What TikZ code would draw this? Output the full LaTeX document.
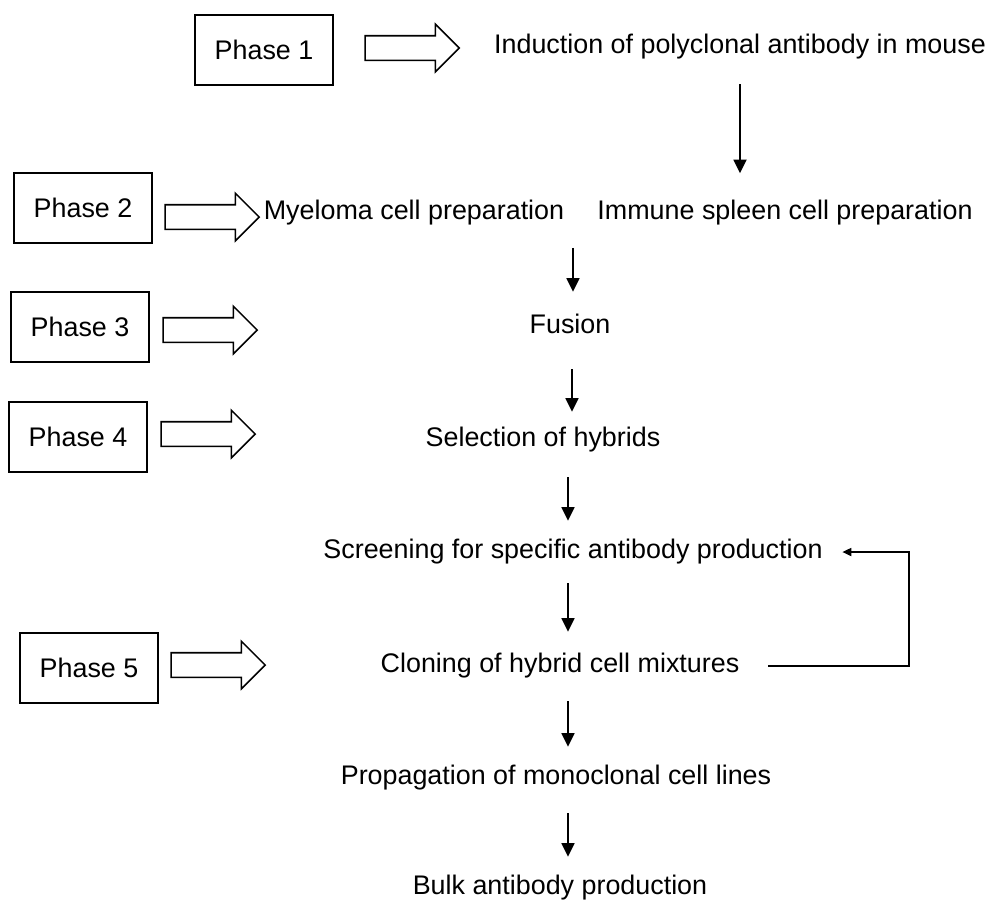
\documentclass[tikz,border=0pt]{standalone}
\usepackage{fontspec}
\setmainfont{Liberation Sans}
\usetikzlibrary{arrows.meta,shapes.arrows}
\newcommand{\stagefont}{\fontsize{15.3}{18}\selectfont}

\begin{document}
\begin{tikzpicture}[x=0.02cm, y=-0.02cm, line width=0.9pt,
    phasebox/.style={draw, minimum width=2.76cm, minimum height=1.4cm, font=\stagefont},
    fatarrow/.style={draw, single arrow, single arrow head extend=0.23cm, inner sep=0.23cm, minimum height=1.88cm},
    stage/.style={inner sep=0pt, text height=0.36cm, text depth=0.1cm, font=\stagefont},
    flow/.style={-{Triangle[length=0.27cm, width=0.26cm]}, line width=1pt},
    loopback/.style={-{Triangle[length=0.18cm, width=0.16cm]}, line width=1pt}]
    \useasboundingbox (0,0) rectangle (1000,904);

    % phases on the left
    \node[phasebox] (p1) at (264,50) {Phase 1};
    \node[phasebox] (p2) at (83,208) {Phase 2};
    \node[phasebox] (p3) at (80,327) {Phase 3};
    \node[phasebox] (p4) at (78,437) {Phase 4};
    \node[phasebox] (p5) at (89,668) {Phase 5};

    \node[fatarrow] (a1) at (406,48) {};
    \node[fatarrow] (a2) at (206,217) {};
    \node[fatarrow] (a3) at (204,330) {};
    \node[fatarrow] (a4) at (202,434) {};
    \node[fatarrow] (a5) at (212,665) {};

    % the procedure
    \node[stage] (induction) at (740,47) {Induction of polyclonal antibody in mouse};
    \node[stage] (myeloma) at (414,213) {Myeloma cell preparation};
    \node[stage] (spleen) at (785,213) {Immune spleen cell preparation};
    \node[stage] (fusion) at (570,327) {Fusion};
    \node[stage] (selection) at (543,440) {Selection of hybrids};
    \node[stage] (screening) at (573,552) {Screening for specific antibody production};
    \node[stage] (cloning) at (560,666) {Cloning of hybrid cell mixtures};
    \node[stage] (propagation) at (556,778) {Propagation of monoclonal cell lines};
    \node[stage] (bulk) at (560,888) {Bulk antibody production};
    \coordinate (loop) at (909,552);

    \draw[flow, shorten <=0.5cm, shorten >=0.55cm] (induction.south -| 740,0) -- (spleen.north -| 740,0);
    \draw[flow, shorten <=0.45cm, shorten >=0.46cm] (myeloma.south -| 573,0) -- (fusion.north -| 573,0);
    \draw[flow, shorten <=0.6cm, shorten >=0.32cm] (fusion.south -| 572,0) -- (selection.north -| 572,0);
    \draw[flow, shorten <=0.5cm, shorten >=0.38cm] (selection.south -| 568,0) -- (screening.north -| 568,0);
    \draw[flow, shorten <=0.38cm, shorten >=0.44cm] (screening.south -| 568,0) -- (cloning.north -| 568,0);
    \draw[flow, shorten <=0.46cm, shorten >=0.38cm] (cloning.south -| 568,0) -- (propagation.north -| 568,0);
    \draw[flow, shorten <=0.46cm, shorten >=0.38cm] (propagation.south -| 568,0) -- (bulk.north -| 568,0);

    \draw[loopback] ([xshift=0.56cm]cloning.east) -| (loop) -- ([xshift=0.38cm]screening.east);
\end{tikzpicture}
\end{document}
